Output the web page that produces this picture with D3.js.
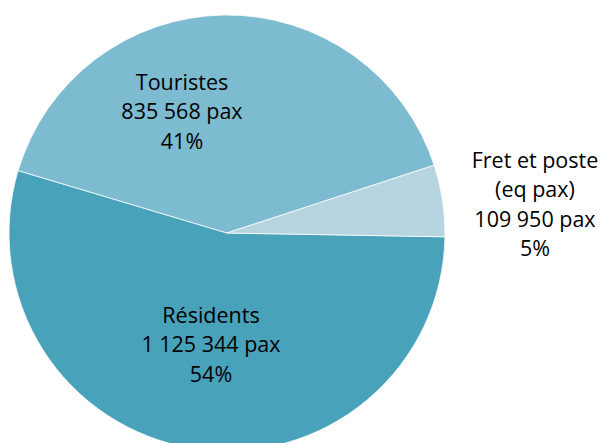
<!DOCTYPE html>
<html>
<head>
<meta charset="utf-8">
<script src="https://cdn.jsdelivr.net/npm/d3@7"></script>
<style>
  html, body { margin: 0; padding: 0; background: #fff; }
  svg { display: block; }
  text { font-family: "Open Sans", "DejaVu Sans", sans-serif; fill: #000; }
</style>
</head>
<body>
<svg id="chart" width="601" height="443"></svg>
<script>
// Passenger breakdown
const categories = ["Résidents", "Touristes", "Fret et poste (eq pax)"];
const values = [1125344, 835568, 109950];
const labelLines = [
  ["Résidents", "1 125 344 pax", "54%"],
  ["Touristes", "835 568 pax", "41%"],
  ["Fret et poste", "(eq pax)", "109 950 pax", "5%"]
];
const colors = ["#48a2ba", "#7dbbd0", "#b6d5e0"];

// Layout
const width = 601, height = 443;
const cx = 227, cy = 233, radius = 218;
const startDeg = 91;
// label block centres (x, first baseline)
const labelAnchors = [[211, 323], [182, 90], [535, 168]];
const lineStep = 29.3;
const fontSize = 21.5;

const svg = d3.select("#chart");

const pie = d3.pie()
  .sort(null)
  .value(d => d)
  .startAngle(startDeg * Math.PI / 180)
  .endAngle(startDeg * Math.PI / 180 + 2 * Math.PI);

const arc = d3.arc().innerRadius(0).outerRadius(radius);

const g = svg.append("g").attr("transform", `translate(${cx},${cy})`);

g.selectAll("path.slice")
  .data(pie(values))
  .join("path")
  .attr("class", "slice")
  .attr("d", arc)
  .attr("fill", (d, i) => colors[i])
  .attr("stroke", "#ffffff")
  .attr("stroke-width", 0.75);

const labels = svg.append("g");
labelLines.forEach((lines, i) => {
  const [lx, ly] = labelAnchors[i];
  const t = labels.append("text")
    .attr("text-anchor", "middle")
    .attr("font-size", fontSize);
  lines.forEach((s, j) => {
    t.append("tspan").attr("x", lx).attr("y", ly + j * lineStep).text(s);
  });
});
</script>
</body>
</html>
